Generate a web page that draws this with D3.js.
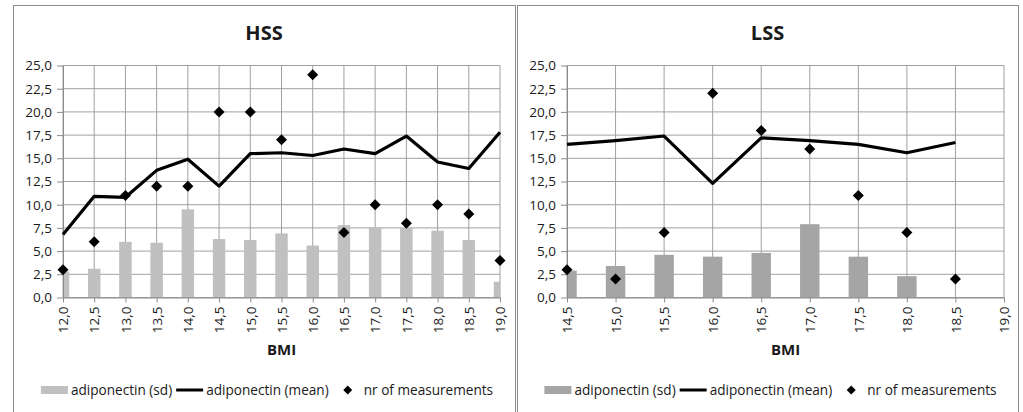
<!DOCTYPE html>
<html>
<head>
<meta charset="utf-8">
<script src="https://cdn.jsdelivr.net/npm/d3@7"></script>
<style>
  body { margin: 0; background: #fff; }
  text { font-family: "Open Sans", sans-serif; fill: #1a1a1a; }
</style>
</head>
<body>
<div id="chart"></div>
<script>
// HSS panel data
var hssBmi  = [12.0, 12.5, 13.0, 13.5, 14.0, 14.5, 15.0, 15.5, 16.0, 16.5, 17.0, 17.5, 18.0, 18.5, 19.0];
var hssSd   = [2.8, 3.1, 6.0, 5.9, 9.5, 6.3, 6.2, 6.9, 5.6, 7.8, 7.6, 7.5, 7.2, 6.2, 1.7];
var hssMean = [6.8, 10.9, 10.8, 13.7, 14.9, 12.0, 15.5, 15.6, 15.3, 16.0, 15.5, 17.4, 14.6, 13.9, 17.8];
var hssNr   = [3, 6, 11, 12, 12, 20, 20, 17, 24, 7, 10, 8, 10, 9, 4];

// LSS panel data
var lssBmi  = [14.5, 15.0, 15.5, 16.0, 16.5, 17.0, 17.5, 18.0, 18.5, 19.0];
var lssSd   = [2.9, 3.4, 4.6, 4.4, 4.8, 7.9, 4.4, 2.3, null, null];
var lssMean = [16.5, 16.9, 17.4, 12.3, 17.2, 16.9, 16.5, 15.6, 16.7, null];
var lssNr   = [3, 2, 7, 22, 18, 16, 11, 7, 2, null];

var yTicks = [0, 2.5, 5, 7.5, 10, 12.5, 15, 17.5, 20, 22.5, 25];
var legendLabels = ["adiponectin (sd)", "adiponectin (mean)", "nr of measurements"];

var fmt = d3.formatLocale({decimal: ",", thousands: ".", grouping: [3], currency: ["", ""]}).format(".1f");

var svg = d3.select("#chart")
  .append("svg")
    .attr("width", 1023)
    .attr("height", 412);

var gridColor = "#a0a0a0";
var diamond = "M0,-5.5L5.5,0L0,5.5L-5.5,0Z";

function drawPanel(px, pw, id, title, bmi, sd, mean, nr, barColor) {
  var margin = {left: 50, top: 65.5},
      width = 437,
      height = 232;

  // panel frame
  svg.append("rect")
    .attr("x", px + 0.5).attr("y", 5.5)
    .attr("width", pw).attr("height", 420)
    .attr("fill", "#fff")
    .attr("stroke", "#8c8c8c");

  svg.append("text")
    .attr("x", px + pw / 2).attr("y", 40)
    .attr("text-anchor", "middle")
    .style("font-size", "20px").style("font-weight", "bold")
    .text(title);

  var g = svg.append("g")
    .attr("transform", "translate(" + (px + margin.left) + "," + margin.top + ")");

  var x = d3.scalePoint().domain(bmi).range([0, width]);
  var y = d3.scaleLinear().domain([0, 25]).range([height, 0]);
  var bw = x.step() * 0.4;

  g.append("clipPath").attr("id", "clip" + id)
    .append("rect").attr("width", width).attr("height", height);

  // gridlines
  g.selectAll(".hgrid").data(yTicks).enter().append("line")
    .attr("x1", 0).attr("x2", width)
    .attr("y1", function(d) { return y(d); }).attr("y2", function(d) { return y(d); })
    .attr("stroke", gridColor);
  g.selectAll(".vgrid").data(bmi).enter().append("line")
    .attr("x1", function(d) { return x(d); }).attr("x2", function(d) { return x(d); })
    .attr("y1", 0).attr("y2", height)
    .attr("stroke", gridColor);

  // bars (sd)
  var rows = bmi.map(function(b, i) { return {bmi: b, sd: sd[i], mean: mean[i], nr: nr[i]}; });
  g.append("g").attr("clip-path", "url(#clip" + id + ")")
    .selectAll("rect").data(rows.filter(function(d) { return d.sd != null; }))
    .enter().append("rect")
      .attr("x", function(d) { return x(d.bmi) - bw / 2; })
      .attr("width", bw)
      .attr("y", function(d) { return y(d.sd); })
      .attr("height", function(d) { return height - y(d.sd); })
      .attr("fill", barColor);

  // axes
  var yAxis = g.append("g")
    .call(d3.axisLeft(y).tickValues(yTicks).tickFormat(fmt).tickSize(6).tickSizeOuter(0).tickPadding(5));
  var xAxis = g.append("g")
    .attr("transform", "translate(0," + height + ")")
    .call(d3.axisBottom(x).tickFormat(fmt).tickSize(5).tickSizeOuter(0));
  xAxis.selectAll("text")
    .attr("transform", "rotate(-90)")
    .attr("text-anchor", "end")
    .attr("x", -9).attr("y", 0).attr("dy", "0.35em");
  [yAxis, xAxis].forEach(function(a) {
    a.selectAll("path, line").attr("stroke", "#8c8c8c");
    a.selectAll("text").style("font-size", "13.5px").style("font-family", "'Open Sans', sans-serif").attr("fill", "#1a1a1a");
  });

  // mean line
  g.append("path")
    .datum(rows)
    .attr("d", d3.line()
      .defined(function(d) { return d.mean != null; })
      .x(function(d) { return x(d.bmi); })
      .y(function(d) { return y(d.mean); }))
    .attr("fill", "none")
    .attr("stroke", "#000")
    .attr("stroke-width", 3.2)
    .attr("stroke-linejoin", "round");

  // nr of measurements
  g.selectAll(".pt").data(rows.filter(function(d) { return d.nr != null; }))
    .enter().append("path")
      .attr("d", diamond)
      .attr("transform", function(d) { return "translate(" + x(d.bmi) + "," + y(d.nr) + ")"; })
      .attr("fill", "#000");

  svg.append("text")
    .attr("x", px + margin.left + width / 2).attr("y", 355)
    .attr("text-anchor", "middle")
    .style("font-size", "15px").style("font-weight", "bold")
    .text("BMI");

  // legend
  var lg = svg.append("g");
  var cx = 0, ly = 390, fs = "13.6px";
  lg.append("rect").attr("x", cx).attr("y", ly - 4).attr("width", 27).attr("height", 8).attr("fill", barColor);
  cx += 30;
  var t1 = lg.append("text").attr("x", cx).attr("y", ly + 5).style("font-size", fs).text(legendLabels[0]);
  cx += t1.node().getComputedTextLength() + 4;
  lg.append("line").attr("x1", cx).attr("x2", cx + 27).attr("y1", ly).attr("y2", ly).attr("stroke", "#000").attr("stroke-width", 3);
  cx += 30;
  var t2 = lg.append("text").attr("x", cx).attr("y", ly + 5).style("font-size", fs).text(legendLabels[1]);
  cx += t2.node().getComputedTextLength() + 19;
  lg.append("path").attr("d", "M0,-4.5L4.5,0L0,4.5L-4.5,0Z").attr("transform", "translate(" + cx + "," + ly + ")").attr("fill", "#000");
  cx += 16;
  var t3 = lg.append("text").attr("x", cx).attr("y", ly + 5).style("font-size", fs).text(legendLabels[2]);
  cx += t3.node().getComputedTextLength();
  lg.attr("transform", "translate(" + (px + pw / 2 + 3 - cx / 2) + ",0)");
}

drawPanel(13, 502, "hss", "HSS", hssBmi, hssSd, hssMean, hssNr, "#c0c0c0");
drawPanel(517, 501, "lss", "LSS", lssBmi, lssSd, lssMean, lssNr, "#a5a5a5");
</script>
</body>
</html>
